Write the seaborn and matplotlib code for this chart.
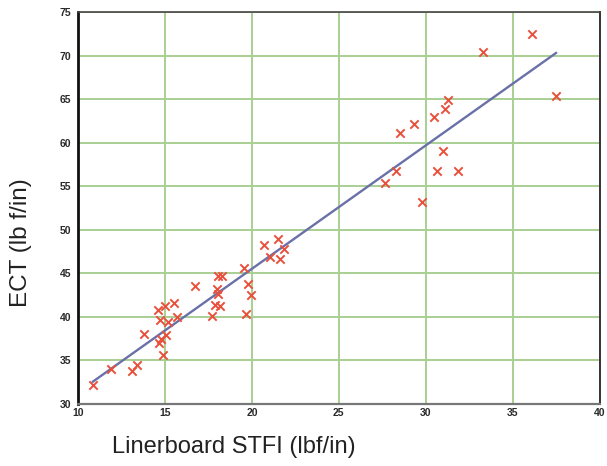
import numpy as np
import pandas as pd
import matplotlib
matplotlib.use("Agg")
import matplotlib.pyplot as plt
import seaborn as sns

# Linerboard STFI vs ECT
stfi = [10.84, 11.87, 13.09, 13.37, 13.80, 14.65, 14.76, 15.05, 14.86, 14.70,
        15.18, 15.71, 14.61, 14.99, 15.50, 16.70, 17.70, 17.85, 18.17, 17.98,
        18.04, 18.04, 18.29, 19.56, 19.79, 19.94, 19.66, 20.70, 21.50, 21.05,
        21.85, 21.60, 27.66, 28.29, 28.50, 29.30, 29.79, 30.47, 30.63, 30.99,
        31.10, 31.27, 31.83, 33.26, 36.13, 37.50]
ect = [32.2, 34.0, 33.8, 34.5, 38.0, 37.0, 37.5, 37.9, 35.6, 39.7,
       39.4, 40.0, 40.8, 41.3, 41.6, 43.6, 40.1, 41.4, 41.2, 43.2,
       42.6, 44.7, 44.7, 45.6, 43.8, 42.5, 40.3, 48.3, 48.9, 46.9,
       47.8, 46.6, 55.4, 56.8, 61.1, 62.1, 53.2, 62.9, 56.8, 59.0,
       63.9, 64.9, 56.7, 70.4, 72.5, 65.4]

x_ticks = [10, 15, 20, 25, 30, 35, 40]
y_ticks = [30, 35, 40, 45, 50, 55, 60, 65, 70, 75]

df = pd.DataFrame({"stfi": stfi, "ect": ect})

sns.set_style("white")
plt.rcParams["font.family"] = ["Liberation Sans", "DejaVu Sans"]

fig = plt.figure(figsize=(6.07, 4.66), dpi=100)
ax = fig.add_axes([0.1285, 0.133, 0.8595, 0.841])

sns.regplot(data=df, x="stfi", y="ect", ax=ax, scatter=False, ci=None,
            truncate=True, line_kws={"color": "#6a70a8", "lw": 1.7, "zorder": 3})
sns.scatterplot(data=df, x="stfi", y="ect", ax=ax, marker="x", s=36,
                color="#e8503c", linewidth=1.4, zorder=4)

ax.set_xlim(10, 40)
ax.set_ylim(30, 75)
ax.set_xticks(x_ticks)
ax.set_yticks(y_ticks)
ax.set_xticklabels([str(t) for t in x_ticks], fontsize=7.5, fontweight="bold", color="#2a2a2a")
ax.set_yticklabels([str(t) for t in y_ticks], fontsize=7.5, fontweight="bold", color="#2a2a2a")
ax.tick_params(axis="y", length=0, pad=5)
ax.tick_params(axis="x", length=0, pad=3)
ax.grid(True, color="#a8cf94", lw=1.4)
ax.set_axisbelow(True)
ax.set_xlabel("")
ax.set_ylabel("")

ax.spines["left"].set_color("#111111")
ax.spines["left"].set_linewidth(2.0)
ax.spines["bottom"].set_color("#777777")
ax.spines["bottom"].set_linewidth(1.6)
ax.spines["top"].set_color("#444444")
ax.spines["top"].set_linewidth(1.2)
ax.spines["right"].set_color("#333333")
ax.spines["right"].set_linewidth(1.4)

fig.text(234 / 607, 1 - 447 / 466, "Linerboard STFI (lbf/in)", fontsize=17,
         ha="center", va="center", color="#222222")
fig.text(21.5 / 607, 1 - 242.5 / 466, "ECT (lb f/in)", fontsize=17.5, rotation=90,
         ha="center", va="center", color="#222222")

fig.savefig("out.png", dpi=100)
